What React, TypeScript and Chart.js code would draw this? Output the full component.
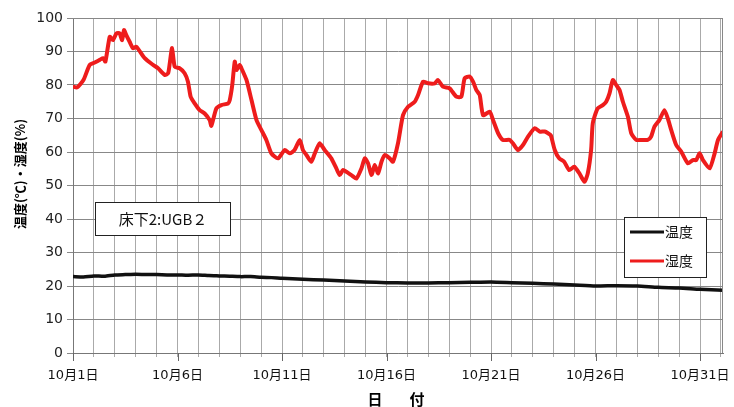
import React, { useEffect, useRef } from 'react';
import { Chart, registerables } from 'chart.js';

Chart.register(...registerables);

// Humidity (湿度) readings: day offset from 10/1 and value (%)
const humDays = [
  0.0, 0.2, 0.5, 0.8, 1.04, 1.28, 1.44, 1.55, 1.76, 1.91, 2.08, 2.23, 2.35, 2.44, 2.55, 2.71, 2.87, 3.03,
  3.43, 3.83, 4.07, 4.39, 4.55, 4.63, 4.74, 4.87, 5.1, 5.34, 5.5, 5.63, 5.82, 6.06, 6.3, 6.54, 6.62, 6.86,
  7.1, 7.42, 7.5, 7.62, 7.74, 7.82, 7.98, 8.06, 8.3, 8.54, 8.78, 9.01, 9.25, 9.49, 9.81, 10.13, 10.37, 10.6,
  10.85, 11.0, 11.17, 11.4, 11.57, 11.8, 12.04, 12.36, 12.6, 12.76, 12.92, 13.08, 13.32, 13.56, 13.8, 13.96,
  14.12, 14.28, 14.44, 14.6, 14.76, 14.92, 15.15, 15.31, 15.55, 15.79, 16.03, 16.35, 16.51, 16.75, 16.99,
  17.31, 17.46, 17.7, 18.02, 18.34, 18.58, 18.74, 18.98, 19.14, 19.3, 19.46, 19.62, 19.94, 20.1, 20.34,
  20.57, 20.89, 21.05, 21.29, 21.53, 21.77, 22.09, 22.33, 22.57, 22.73, 22.86, 23.05, 23.26, 23.5, 23.74,
  23.98, 24.23, 24.47, 24.63, 24.79, 24.87, 25.1, 25.35, 25.51, 25.67, 25.83, 25.99, 26.15, 26.31, 26.55,
  26.71, 26.95, 27.19, 27.5, 27.66, 27.82, 28.06, 28.3, 28.46, 28.62, 28.86, 29.1, 29.42, 29.66, 29.82,
  29.98, 30.14, 30.46, 30.7, 30.86, 31.1,
];
const humValues = [
  79.5, 79.3, 81.5, 86, 86.7, 87.5, 88, 87, 94.4, 93.4, 95.4, 95.4, 93.4, 96.4, 94.9, 92.9, 91, 91.4,
  88, 86, 85, 83, 83.5, 86.5, 91, 85.4, 85, 83.5, 81, 76.5, 74.5, 72.5, 71.5, 69.5, 67.8, 73,
  74, 74.5, 75.5, 80, 87, 84.5, 86, 85, 81.5, 75.5, 69.5, 66.6, 63.6, 59.6, 58.1, 60.6, 59.6, 60.6,
  63.6, 60.6, 59.1, 57.1, 59.6, 62.6, 60.6, 58.1, 55.1, 53.1, 54.6, 54.1, 53.1, 52.1, 55.1, 58.1,
  56.6, 53.1, 56.1, 53.6, 57.1, 59.1, 58.1, 57.1, 62.6, 71, 73.5, 75, 77, 81, 80.5,
  80.5, 81.5, 79.5, 79, 76.5, 76.5, 82, 82.5, 81, 78.5, 77, 71, 72, 69.5, 65.6,
  63.6, 63.6, 62.6, 60.6, 62.1, 64.6, 67.1, 66.1, 66.1, 65.6, 65, 60.6, 58.1, 57.1, 54.6,
  55.6, 53.6, 51.1, 53.6, 60.6, 68.6, 73, 74, 75, 77.5, 81.5, 80, 78.5, 75, 70.5,
  65.6, 63.6, 63.6, 63.6, 64.6, 67.6, 69.6, 72.5, 70, 66.6, 62.1, 60.1, 56.6, 57.6, 57.6,
  59.6, 57.6, 55.1, 59.6, 63.6, 66.1,
];

// Temperature (温度) readings
const tempDays = [
  0, 0.5, 1, 1.5, 2, 2.5, 3, 3.5, 4, 4.5, 5, 5.5, 6, 6.5, 7, 7.5, 8, 8.5, 9, 9.5, 10, 11, 12, 13, 14,
  15, 16, 17, 18, 19, 20, 21, 22, 23, 24, 25, 26, 27, 28, 29, 30, 31.1,
];
const tempValues = [
  22.8, 22.7, 23.0, 22.9, 23.3, 23.4, 23.5, 23.4, 23.4, 23.3, 23.3, 23.2, 23.3, 23.1, 23.0, 22.9, 22.8, 22.8,
  22.6, 22.5, 22.3, 22.0, 21.8, 21.5, 21.2, 21.0, 20.9, 20.9, 21.0, 21.1, 21.2, 21.0, 20.8, 20.6, 20.3,
  20.0, 20.1, 20.0, 19.6, 19.4, 19.0, 18.7,
];

const xLabelDays = [0, 5, 10, 15, 20, 25, 30];
const xLabels = ['10月1日', '10月6日', '10月11日', '10月16日', '10月21日', '10月26日', '10月31日'];
const seriesNames = ['温度', '湿度'];
const seriesColors = ['#111111', '#ee1c1c'];
const yTitle = '温度(℃)・湿度(%)';
const xTitleChars = ['日', '付'];
const boxText = '床下2:UGB２';

const FONT = '"DejaVu Sans", "Noto Sans CJK JP", sans-serif';
const JFONT = '"Noto Sans CJK JP", sans-serif';

const decorPlugin = {
  id: 'decor',
  afterDraw(chart: any) {
    const { ctx, chartArea } = chart;
    const { left, right, top, bottom } = chartArea;
    const xs = chart.scales.x;
    ctx.save();
    // plot border top/right
    ctx.strokeStyle = '#888';
    ctx.lineWidth = 1;
    ctx.beginPath();
    ctx.moveTo(left, top + 0.5);
    ctx.lineTo(right - 0.5, top + 0.5);
    ctx.lineTo(right - 0.5, bottom);
    ctx.stroke();
    // major x ticks
    ctx.strokeStyle = '#666';
    ctx.beginPath();
    xLabelDays.forEach((d) => {
      const px = Math.round(xs.getPixelForValue(d)) + 0.5;
      ctx.moveTo(px, bottom);
      ctx.lineTo(px, bottom + 8);
    });
    ctx.stroke();

    // annotation box
    ctx.fillStyle = '#fff';
    ctx.fillRect(95, 202, 135, 33);
    ctx.strokeStyle = '#222';
    ctx.lineWidth = 1;
    ctx.strokeRect(95.5, 202.5, 135, 33);
    ctx.fillStyle = '#111';
    ctx.font = '15px ' + JFONT;
    ctx.textAlign = 'center';
    ctx.textBaseline = 'middle';
    ctx.fillText(boxText, 163, 219);

    // legend box
    ctx.fillStyle = '#fff';
    ctx.fillRect(624, 217, 82, 60);
    ctx.strokeStyle = '#222';
    ctx.strokeRect(624.5, 217.5, 82, 60);
    const rows = [232, 261];
    rows.forEach((yy, i) => {
      ctx.strokeStyle = seriesColors[i];
      ctx.lineWidth = 3;
      ctx.beginPath();
      ctx.moveTo(630, yy);
      ctx.lineTo(664, yy);
      ctx.stroke();
      ctx.fillStyle = '#111';
      ctx.font = '14px ' + JFONT;
      ctx.textAlign = 'left';
      ctx.textBaseline = 'middle';
      ctx.fillText(seriesNames[i], 665, yy);
    });

    // y title
    ctx.save();
    ctx.translate(20, 174);
    ctx.rotate(-Math.PI / 2);
    ctx.fillStyle = '#000';
    ctx.font = 'bold 13px ' + JFONT;
    ctx.textAlign = 'center';
    ctx.textBaseline = 'middle';
    ctx.fillText(yTitle, 0, 0);
    ctx.restore();

    // x title
    ctx.fillStyle = '#000';
    ctx.font = 'bold 15px ' + JFONT;
    ctx.textAlign = 'center';
    ctx.textBaseline = 'middle';
    ctx.fillText(xTitleChars[0], 375, 399);
    ctx.fillText(xTitleChars[1], 417, 399);
    ctx.restore();
  },
};

export default function App() {
  const ref = useRef<HTMLCanvasElement | null>(null);
  useEffect(() => {
    if (!ref.current) return;
    const chart = new Chart(ref.current, {
      type: 'line',
      data: {
        datasets: [
          {
            label: seriesNames[0],
            data: tempDays.map((d, i) => ({ x: d, y: tempValues[i] })),
            borderColor: seriesColors[0],
            borderWidth: 3.5,
            pointRadius: 0,
            tension: 0.2,
          },
          {
            label: seriesNames[1],
            data: humDays.map((d, i) => ({ x: d, y: humValues[i] })),
            borderColor: seriesColors[1],
            borderWidth: 4,
            pointRadius: 0,
            tension: 0.2,
          },
        ],
      },
      options: {
        animation: false,
        responsive: false,
        devicePixelRatio: 1,
        layout: { padding: { left: 0, top: 18, right: 11, bottom: 0 }, autoPadding: false },
        plugins: { legend: { display: false }, tooltip: { enabled: false } },
        scales: {
          x: {
            type: 'linear',
            min: 0,
            max: 31.1,
            afterFit: (s: any) => {
              s.height = 54;
            },
            ticks: {
              stepSize: 1,
              autoSkip: false,
              maxRotation: 0,
              includeBounds: false,
              padding: 11,
              color: '#111',
              font: { family: FONT, size: 13 },
              callback: (v: any) => {
                const idx = xLabelDays.indexOf(Number(v));
                return idx >= 0 ? xLabels[idx] : '';
              },
            },
            grid: { color: '#aaa', lineWidth: 1, tickLength: 4 },
            border: { color: '#777' },
          },
          y: {
            min: 0,
            max: 100,
            afterFit: (s: any) => {
              s.width = 73;
            },
            ticks: {
              stepSize: 10,
              padding: 4,
              color: '#222',
              font: { family: FONT, size: 14 },
            },
            grid: { color: '#888', lineWidth: 1, tickLength: 6 },
            border: { color: '#777' },
          },
        },
      },
      plugins: [decorPlugin],
    });
    return () => chart.destroy();
  }, []);
  return (
    <div style={{ position: 'absolute', left: 0, top: 0, width: 734, height: 407, background: '#fff' }}>
      <canvas ref={ref} width={734} height={407} />
    </div>
  );
}
